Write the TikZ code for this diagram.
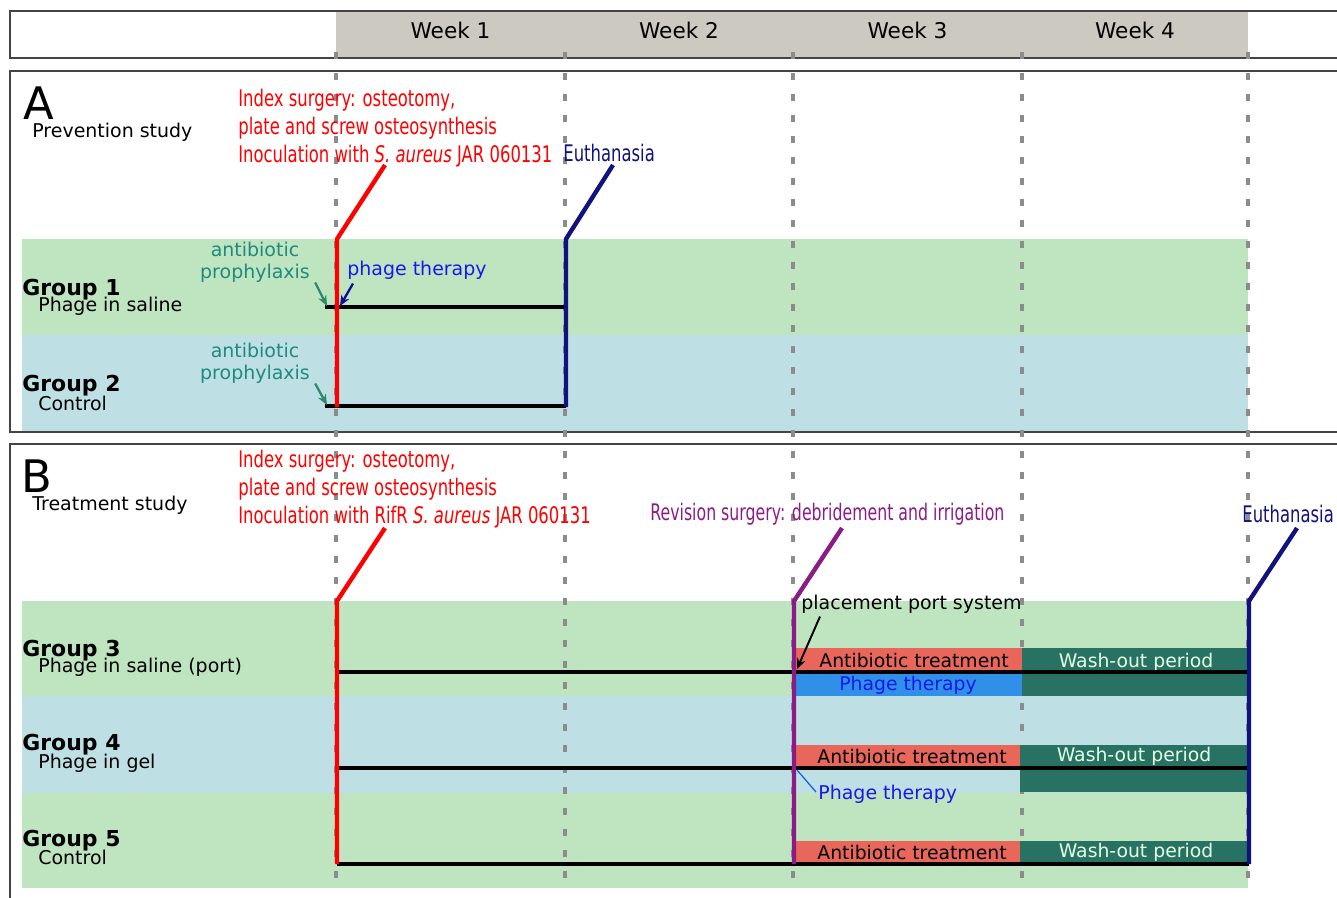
\documentclass[tikz,border=0pt]{standalone}
\usepackage{fontspec}
\setmainfont{DejaVu Sans}
\newfontfamily\narrowfont[FakeStretch=0.72]{DejaVu Sans}
\newfontfamily\narrowerfont[FakeStretch=0.69]{DejaVu Sans}
\usetikzlibrary{arrows.meta}

\definecolor{bandgreen}{HTML}{BFE4C0}
\definecolor{bandblue}{HTML}{BEE0E4}
\definecolor{headgray}{HTML}{CCC9C0}
\definecolor{framegray}{HTML}{444444}
\definecolor{dashgray}{HTML}{8C8C8C}
\definecolor{eventnavy}{HTML}{12127E}
\definecolor{eventpurple}{HTML}{8B1C86}
\definecolor{prophteal}{HTML}{1E8A80}
\definecolor{arrowteal}{HTML}{2E8A6A}
\definecolor{phageblue}{HTML}{1818EE}
\definecolor{abxred}{HTML}{E9675A}
\definecolor{washgreen}{HTML}{277262}
\definecolor{phagebox}{HTML}{3090E8}

\tikzset{
  grouplabel/.style={anchor=base west, inner sep=0pt, text depth=0pt, font=\fontsize{12.5}{14}\selectfont\bfseries},
  sublabel/.style={anchor=west, inner sep=0pt},
  baselabel/.style={anchor=base west, inner sep=0pt, text depth=0pt},
  panelletter/.style={anchor=base west, inner sep=0pt, font=\fontsize{25.5}{28}\selectfont},
  eventtext/.style={anchor=west, inner sep=0pt, align=left, font=\narrowfont\fontsize{13}{15.9}\selectfont},
  prophtext/.style={align=center, inner sep=0pt, text=prophteal},
  boxtext/.style={inner sep=0pt, font=\fontsize{10.7}{12}\selectfont},
  timeline/.style={line width=2.3pt},
  eventline/.style={line width=2.5pt},
  frame/.style={framegray, line width=1.1pt}
}

\begin{document}
\begin{tikzpicture}[x=0.02cm, y=-0.02cm, font=\fontsize{10.8}{12.5}\selectfont]
\useasboundingbox (0,0) rectangle (1337,897);

% header and frames
\fill[headgray] (336,11) rectangle (1248,58);
\draw[frame] (1345,11) -- (10,11) -- (10,58) -- (1345,58);
\draw[frame] (1345,71) -- (10,71) -- (10,432) -- (1345,432);
\draw[frame] (1345,444) -- (10,444) -- (10,905);

\foreach \wk/\xc in {1/450.5, 2/679, 3/907.5, 4/1135}
  \node[font=\fontsize{12.3}{14}\selectfont] (week\wk) at (\xc,30) {Week \wk};

% group bands
\fill[bandgreen] (22,239) rectangle (1248,335);
\fill[bandblue] (22,335) rectangle (1248,431);
\fill[bandgreen] (22,601) rectangle (1248,696);
\fill[bandblue] (22,696) rectangle (1248,793);
\fill[bandgreen] (22,793) rectangle (1248,888);

\foreach \xw in {336,565,793,1022,1248}
  \draw[dashgray, line width=1.8pt, dash pattern=on 0.14cm off 0.28cm] (\xw,52) -- (\xw,890);

% panel A
\node[panelletter] (panelA) at (23,119) {A};
\node[baselabel] (studyA) at (32,137) {Prevention study};
\node[grouplabel] (grp1) at (22,295) {Group 1};
\node[baselabel] (sub1) at (38,311) {Phage in saline};
\node[grouplabel] (grp2) at (22,391) {Group 2};
\node[baselabel] (sub2) at (38,410) {Control};

\node[eventtext, text=red, anchor=north west] (idxA) at (238,89)
  {Index surgery: osteotomy,\\plate and screw osteosynthesis\\Inoculation with \textit{S. aureus} JAR 060131};
\node[eventtext, text=eventnavy] (euthA) at (563,153) {Euthanasia};

\draw[timeline] (325,307) -- (566,307);
\draw[timeline] (325,406) -- (566,406);
\draw[eventline, red] (385,165) -- (337,239) -- (337,407);
\draw[eventline, eventnavy] (613,165) -- (566,239) -- (566,407);

\coordinate (t1start) at (327,306);
\coordinate (t1phage) at (340,306);
\coordinate (t2start) at (327,405);
\node[prophtext] (pro1) at (255,262) {antibiotic\\prophylaxis};
\node[prophtext] (pro2) at (255,363) {antibiotic\\prophylaxis};
\node[sublabel, text=phageblue] (phA) at (347,270) {phage therapy};
\draw[arrowteal, line width=1.3pt, -{Stealth[length=6pt,width=5pt]}] (pro1.south east) ++(5,0) -- (t1start);
\draw[arrowteal, line width=1.3pt, -{Stealth[length=6pt,width=5pt]}] (pro2.south east) ++(5,0) -- (t2start);
\draw[eventnavy!80!blue, line width=1.3pt, -{Stealth[length=6pt,width=5pt]}] (phA.south west) ++(6,4) -- (t1phage);

% panel B
\node[panelletter] (panelB) at (21,492) {B};
\node[baselabel] (studyB) at (32,510) {Treatment study};
\node[grouplabel] (grp3) at (22,656) {Group 3};
\node[baselabel] (sub3) at (38,672) {Phage in saline (port)};
\node[grouplabel] (grp4) at (22,750) {Group 4};
\node[baselabel] (sub4) at (38,768) {Phage in gel};
\node[grouplabel] (grp5) at (22,846) {Group 5};
\node[baselabel] (sub5) at (38,864) {Control};

\node[eventtext, text=red, anchor=north west] (idxB) at (238,450)
  {Index surgery: osteotomy,\\plate and screw osteosynthesis\\Inoculation with RifR \textit{S. aureus} JAR 060131};
\node[eventtext, text=eventpurple, font=\narrowerfont\fontsize{13}{15.9}\selectfont] (revB) at (650,514) {Revision surgery: debridement and irrigation};
\node[eventtext, text=eventnavy] (euthB) at (1242,514) {Euthanasia};

% treatment blocks
\fill[abxred] (795,648) rectangle (1022,671);
\fill[phagebox] (795,673) rectangle (1022,696);
\fill[washgreen] (1022,648) rectangle (1248,696);
\fill[abxred] (795,745) rectangle (1020,767);
\fill[washgreen] (1020,745) rectangle (1248,792);
\fill[abxred] (795,841) rectangle (1020,863);
\fill[washgreen] (1020,841) rectangle (1248,863);

\node[boxtext] (abx3) at (914,660) {Antibiotic treatment};
\node[boxtext, text=phageblue] (ph3) at (908,685) {Phage therapy};
\node[boxtext, text=white!90!green] (wash3) at (1136,662) {Wash-out period};
\node[boxtext] (abx4) at (912,756) {Antibiotic treatment};
\node[boxtext, text=white!90!green] (wash4) at (1134,756) {Wash-out period};
\node[boxtext] (abx5) at (912,852) {Antibiotic treatment};
\node[boxtext, text=white!90!green] (wash5) at (1136,852) {Wash-out period};

\draw[timeline] (337,672) -- (1249,672);
\draw[timeline] (337,768) -- (1249,768);
\draw[timeline] (337,864) -- (1249,864);
\draw[eventline, red] (385,528) -- (337,601) -- (337,864);
\draw[eventline, eventpurple] (842,528) -- (794,601) -- (794,864);
\draw[eventline, eventnavy] (1297,528) -- (1249,601) -- (1249,864);

\coordinate (t3port) at (797,669);
\coordinate (t4phage) at (797,770);
\node[sublabel] (portB) at (801,604) {placement port system};
\node[sublabel, text=phageblue] (ph4) at (818,794) {Phage therapy};
\draw[line width=1.1pt, -{Stealth[length=6pt,width=5pt]}] (portB.south west) ++(19,3) -- (t3port);
\draw[phageblue!70!cyan, line width=0.7pt] (ph4.west) ++(-2,-2) -- (t4phage);
\end{tikzpicture}
\end{document}
